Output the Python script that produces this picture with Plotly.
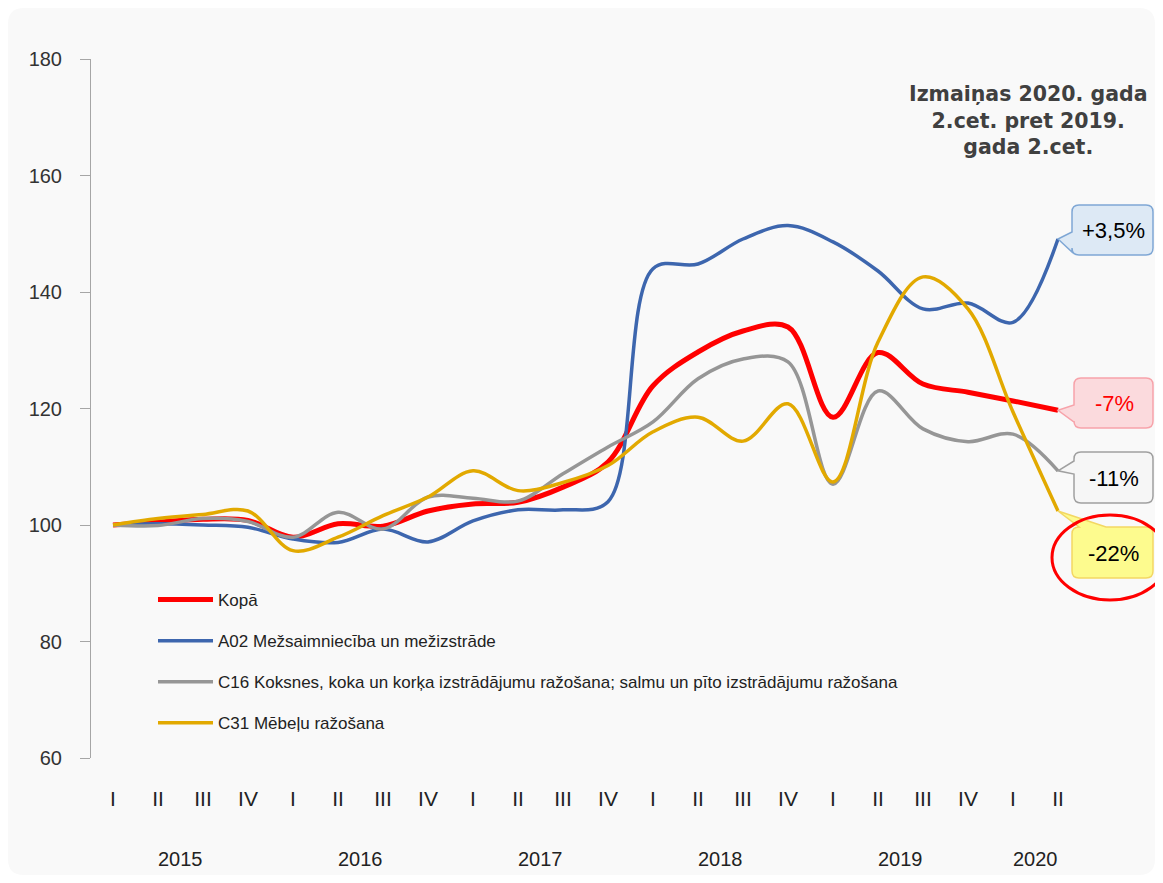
import plotly.graph_objects as go

# ---------------- data ----------------
quarters = ["I", "II", "III", "IV"] * 5 + ["I", "II"]
years = ["2015", "2016", "2017", "2018", "2019", "2020"]
year_centers = [1.5, 5.5, 9.5, 13.5, 17.5, 20.5]

kopa = [100, 100.5, 101.0, 100.8, 97.9, 100.2, 99.8, 102.4, 103.6, 103.9, 106.5,
        110.8, 123.9, 129.7, 133.3, 134.0, 118.5, 129.6, 124.2, 122.8, 121.3, 119.7]
a02 = [100, 100.2, 100.0, 99.6, 97.6, 97.0, 99.3, 97.1, 100.7, 102.6, 102.6,
       104.0, 144.0, 144.8, 149.1, 151.4, 148.6, 143.6, 137.1, 138.1, 134.8, 149.1]
c16 = [100, 99.9, 101.1, 100.6, 97.9, 102.2, 99.3, 104.8, 104.6, 104.1, 108.8,
       113.4, 117.7, 125.1, 128.5, 128.0, 107.0, 123.0, 116.5, 114.3, 115.6, 109.3]
c31 = [100, 101.1, 101.8, 102.4, 95.6, 97.9, 101.6, 104.8, 109.3, 105.9, 107.3,
       110.2, 116.0, 118.5, 114.4, 120.8, 107.4, 131.4, 142.6, 137.1, 119.4, 102.4]

series_names = [
    "Kopā",
    "A02 Mežsaimniecība un mežizstrāde",
    "C16 Koksnes, koka un korķa izstrādājumu ražošana; salmu un pīto izstrādājumu ražošana",
    "C31 Mēbeļu ražošana",
]
series_values = [kopa, a02, c16, c31]
series_colors = ["#ff0000", "#3d66ae", "#969696", "#e2a900"]
series_widths = [5, 3.5, 3.5, 3.5]

change_labels = ["-7%", "+3,5%", "-11%", "-22%"]

# ---------------- layout geometry (page pixels; page has 8px body margin) ----------------
OFF = 8
W, H = 1163 - 2 * OFF, 883 - 2 * OFF
PL, PR, PT, PB = 91, 1155, 59, 758          # plot area in page pixels
ML, MR, MT, MB = PL - OFF, (W + OFF) - PR, PT - OFF, (H + OFF) - PB
PW = PR - PL
PH = PB - PT
KX = 45.0                                    # px per quarter
X0 = -(113 - PL) / KX
X1 = X0 + PW / KX
Y0, Y1 = 60, 180
KY = PH / (Y1 - Y0)

def xd(px):
    return X0 + (px - PL) / KX

def yd(py):
    return Y0 + (PB - py) / KY

def xp(x):
    return PL + (x - X0) * KX

def yp(y):
    return PB - (y - Y0) * KY

def xpap(px):
    return (px - PL) / PW

def ypap(py):
    return (PB - py) / PH

FONT = "Liberation Sans, Arial, sans-serif"

fig = go.Figure()
xs = list(range(len(quarters)))
for name, vals, col, w in zip(series_names, series_values, series_colors, series_widths):
    fig.add_trace(go.Scatter(
        x=xs, y=vals, name=name, mode="lines",
        line=dict(color=col, width=w, shape="spline", smoothing=1.0),
        legendgroup=name,
    ))

shapes = []

# rounded light background panel
def rr_paper(l, t, r, b, rad):
    def Q(px, py):
        return f"{xpap(px):.5f},{ypap(py):.5f}"
    return ("M " + Q(l + rad, t) + " L " + Q(r - rad, t) + " Q " + Q(r, t) + " " + Q(r, t + rad) +
            " L " + Q(r, b - rad) + " Q " + Q(r, b) + " " + Q(r - rad, b) +
            " L " + Q(l + rad, b) + " Q " + Q(l, b) + " " + Q(l, b - rad) +
            " L " + Q(l, t + rad) + " Q " + Q(l, t) + " " + Q(l + rad, t) + " Z")

shapes.append(dict(type="path", xref="paper", yref="paper",
                   path=rr_paper(OFF, OFF, W + OFF, H + OFF, 16),
                   fillcolor="#f9f9f9", line=dict(width=0), layer="below"))

def P(px, py):
    return f"{xd(px):.5f},{yd(py):.5f}"

def box_left_pointer(l, t, r, b, rad, b1, b2, tip):
    tx, ty = tip
    return ("M " + P(l + rad, t) + " L " + P(r - rad, t) + " Q " + P(r, t) + " " + P(r, t + rad) +
            " L " + P(r, b - rad) + " Q " + P(r, b) + " " + P(r - rad, b) +
            " L " + P(l + rad, b) + " Q " + P(l, b) + " " + P(l, b - rad) +
            " L " + P(l, b2) + " L " + P(tx, ty) + " L " + P(l, b1) +
            " L " + P(l, t + rad) + " Q " + P(l, t) + " " + P(l + rad, t) + " Z")

def box_top_pointer(l, t, r, b, rad, a1, a2, tip):
    tx, ty = tip
    return ("M " + P(l, t + rad) + " Q " + P(l, t) + " " + P(a1, t) +
            " L " + P(tx, ty) + " L " + P(a2, t) +
            " L " + P(r - rad, t) + " Q " + P(r, t) + " " + P(r, t + rad) +
            " L " + P(r, b - rad) + " Q " + P(r, b) + " " + P(r - rad, b) +
            " L " + P(l + rad, b) + " Q " + P(l, b) + " " + P(l, b - rad) + " Z")

last = len(quarters) - 1
tip_k = (xp(last), yp(kopa[-1]))
tip_a = (xp(last), yp(a02[-1]))
tip_c16 = (xp(last), yp(c16[-1]))
tip_c31 = (xp(last), yp(c31[-1]))

callouts = [
    (box_left_pointer(1072, 205, 1153, 255, 7, 232, 252, tip_a), "#dde9f5", "#7fa7d5",
     change_labels[1], "#000000", (1113, 230)),
    (box_left_pointer(1074, 378, 1153, 428, 7, 405, 422, tip_k), "#fbdadd", "#f7a3aa",
     change_labels[0], "#ff0000", (1114, 403)),
    (box_left_pointer(1074, 452, 1153, 503, 7, 461, 474, tip_c16), "#f6f6f6", "#a0a0a0",
     change_labels[2], "#000000", (1114, 478)),
    (box_top_pointer(1072, 527, 1153, 578, 7, 1079, 1106, tip_c31), "#fdfb8e", "#f3d763",
     change_labels[3], "#000000", (1113, 553)),
]

annotations = []
for path, fill, border, txt, tcol, (cx, cy) in callouts:
    shapes.append(dict(type="path", path=path, xref="x", yref="y",
                       fillcolor=fill, line=dict(color=border, width=1.5), layer="above"))
    annotations.append(dict(x=xd(cx), y=yd(cy), xref="x", yref="y", text=txt,
                            showarrow=False, font=dict(family=FONT, size=22, color=tcol)))

# red ellipse
shapes.append(dict(type="circle", xref="x", yref="y",
                   x0=xd(1052), x1=xd(1168), y0=yd(600), y1=yd(515),
                   line=dict(color="#ff0000", width=3), layer="above"))

# title block
annotations.append(dict(
    x=xd(1028), y=yd(120), xref="x", yref="y",
    text="<b>Izmaiņas 2020. gada<br>2.cet. pret 2019.<br>gada 2.cet.</b>",
    showarrow=False, align="center",
    font=dict(family="DejaVu Sans, Verdana, sans-serif", size=20.5, color="#404040")))

# years
for yr, c in zip(years, year_centers):
    annotations.append(dict(x=c, y=ypap(859), xref="x", yref="paper", text=yr,
                            showarrow=False, yanchor="middle",
                            font=dict(family=FONT, size=20, color="#222222")))

fig.update_layout(
    width=W, height=H,
    margin=dict(l=ML, r=MR, t=MT, b=MB, pad=0),
    paper_bgcolor="#ffffff", plot_bgcolor="rgba(0,0,0,0)",
    showlegend=True,
    legend=dict(x=xpap(153), y=ypap(582), xanchor="left", yanchor="top",
                bgcolor="rgba(0,0,0,0)", font=dict(family=FONT, size=17, color="#222222"),
                tracegroupgap=16, itemwidth=55),
    xaxis=dict(range=[X0, X1], tickmode="array", tickvals=xs, ticktext=quarters,
               showgrid=False, zeroline=False, showline=False, ticks="",
               tickfont=dict(family=FONT, size=21, color="#222222"),
               ticklabelstandoff=26),
    yaxis=dict(range=[Y0, Y1], tickmode="array", tickvals=[60, 80, 100, 120, 140, 160, 180],
               showgrid=False, zeroline=False, showline=True, linecolor="#a6a6a6", linewidth=1,
               ticks="outside", ticklen=10, tickcolor="#a6a6a6",
               tickfont=dict(family=FONT, size=20, color="#333333"),
               ticklabelstandoff=14),
    shapes=shapes,
    annotations=annotations,
)

fig.write_html("out.html")
